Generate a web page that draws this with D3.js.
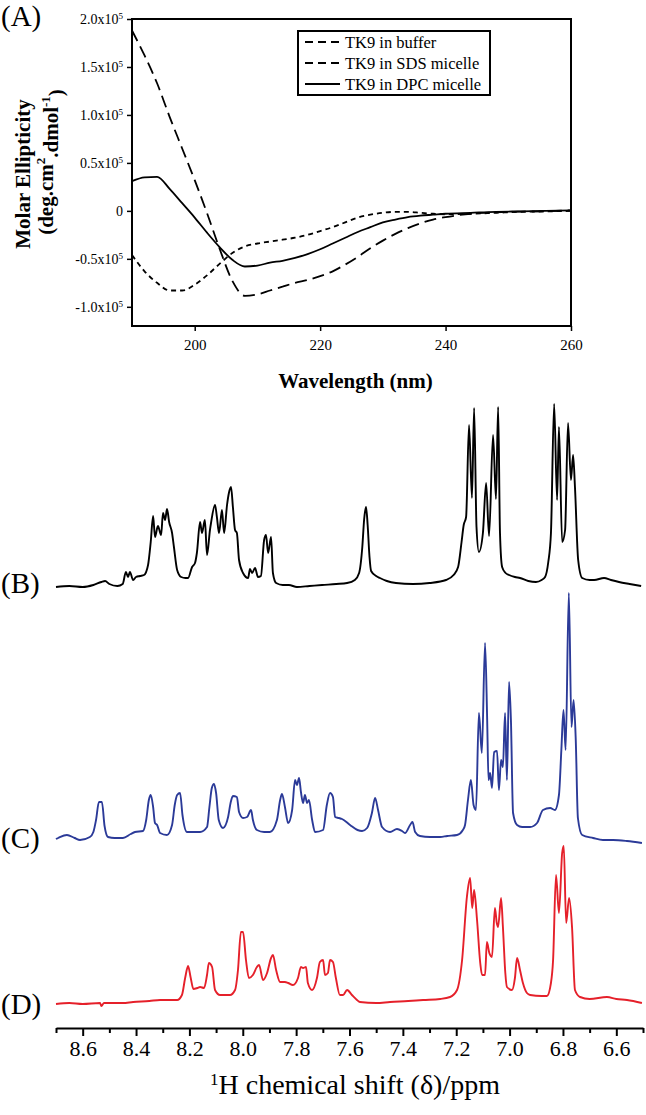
<!DOCTYPE html>
<html>
<head>
<meta charset="utf-8">
<script src="https://cdn.jsdelivr.net/npm/d3@7"></script>
<style>
  body { margin: 0; background: #fff; }
  svg { display: block; font-family: "Liberation Serif", "Times New Roman", serif; }
</style>
</head>
<body>
<svg id="chart" width="646" height="1115"></svg>
<script>
// ---------- panel A : CD spectra (values in units of 1e5) ----------
var wavelengths = [190,192,194,196,198,200,202,204,206,208,210,212,214,216,218,220,222,224,226,228,230,232,234,236,238,240,244,248,252,256,260];
var bufferVals  = [-0.46,-0.63,-0.75,-0.83,-0.83,-0.77,-0.67,-0.55,-0.44,-0.37,-0.34,-0.32,-0.30,-0.28,-0.25,-0.21,-0.17,-0.12,-0.07,-0.04,-0.02,-0.01,-0.01,-0.02,-0.03,-0.035,-0.03,-0.02,-0.01,-0.005,0];
var sdsVals     = [1.88,1.62,1.33,0.98,0.65,0.32,-0.03,-0.40,-0.73,-0.885,-0.87,-0.83,-0.79,-0.75,-0.72,-0.68,-0.63,-0.56,-0.48,-0.39,-0.31,-0.24,-0.18,-0.13,-0.09,-0.065,-0.03,-0.015,-0.008,-0.004,0.005];
var dpcVals     = [0.31,0.35,0.355,0.23,0.08,-0.07,-0.23,-0.38,-0.51,-0.58,-0.57,-0.54,-0.52,-0.49,-0.45,-0.40,-0.34,-0.28,-0.22,-0.17,-0.12,-0.09,-0.065,-0.05,-0.04,-0.03,-0.02,-0.01,-0.005,0,0.005];
var cdNames = ["TK9 in buffer", "TK9 in SDS micelle", "TK9 in DPC micelle"];
var cdYTicks = [-1.0, -0.5, 0, 0.5, 1.0, 1.5, 2.0];
var cdXTicks = [200, 220, 240, 260];

// ---------- panels B-D : 1H NMR spectra [ppm, intensity a.u.] ----------
var nmrTicks = [8.6, 8.4, 8.2, 8.0, 7.8, 7.6, 7.4, 7.2, 7.0, 6.8, 6.6];
var nmrMinorTicks = [8.7, 8.5, 8.3, 8.1, 7.9, 7.7, 7.5, 7.3, 7.1, 6.9, 6.7, 6.5];

var specB = [[8.700,0],[8.650,1],[8.600,0],[8.560,2],[8.530,5],[8.516,6],[8.500,3],[8.470,1],[8.450,3],[8.438,15],[8.430,10],[8.423,15],[8.411,7],[8.400,10],[8.385,11],[8.370,12],[8.355,22],[8.345,45],[8.336,71],[8.329,50],[8.318,61],[8.306,52],[8.299,74],[8.291,67],[8.284,78],[8.276,65],[8.265,54],[8.258,40],[8.246,17],[8.231,10],[8.215,9],[8.205,9],[8.190,20],[8.179,24],[8.172,34],[8.160,65],[8.153,54],[8.142,67],[8.134,32],[8.123,57],[8.119,64],[8.104,82],[8.097,70],[8.089,54],[8.078,77],[8.070,54],[8.059,82],[8.052,94],[8.044,100],[8.037,80],[8.029,57],[8.022,54],[8.014,27],[7.999,14],[7.980,9],[7.973,18],[7.965,14],[7.954,19],[7.943,10],[7.932,11],[7.920,47],[7.913,52],[7.905,34],[7.894,50],[7.887,14],[7.875,4],[7.850,2],[7.827,2],[7.797,0],[7.750,1],[7.703,2],[7.650,3],[7.609,4],[7.580,7],[7.564,14],[7.552,40],[7.545,68],[7.538,80],[7.532,62],[7.525,30],[7.519,16],[7.500,11],[7.486,9],[7.460,6],[7.426,4],[7.362,3],[7.300,4],[7.238,7],[7.210,12],[7.193,20],[7.180,45],[7.172,62],[7.163,70],[7.152,162],[7.141,89],[7.133,179],[7.124,60],[7.115,35],[7.100,54],[7.088,104],[7.077,51],[7.062,152],[7.051,88],[7.043,180],[7.036,54],[7.028,20],[7.015,14],[7.002,12],[6.980,10],[6.961,9],[6.930,6],[6.901,5],[6.880,7],[6.867,10],[6.855,25],[6.845,54],[6.833,183],[6.822,87],[6.815,160],[6.803,45],[6.792,57],[6.781,164],[6.770,107],[6.762,132],[6.755,100],[6.743,27],[6.728,9],[6.700,7],[6.683,7],[6.646,9],[6.620,7],[6.590,5],[6.550,3],[6.507,1]];

var specC = [[8.700,1],[8.692,2],[8.659,5],[8.630,2],[8.610,0],[8.573,3],[8.560,8],[8.550,20],[8.539,38],[8.528,38],[8.518,14],[8.505,3],[8.480,2],[8.449,2],[8.420,6],[8.404,8],[8.374,9],[8.362,20],[8.352,40],[8.345,45],[8.336,33],[8.329,17],[8.321,15],[8.310,7],[8.284,5],[8.265,15],[8.255,35],[8.246,45],[8.235,47],[8.226,25],[8.209,8],[8.180,8],[8.160,8],[8.134,13],[8.125,33],[8.116,52],[8.108,56],[8.100,47],[8.090,20],[8.074,12],[8.055,23],[8.045,38],[8.037,44],[8.022,43],[8.014,28],[7.999,22],[7.984,23],[7.969,30],[7.962,20],[7.947,10],[7.920,8],[7.898,8],[7.872,20],[7.860,40],[7.853,46],[7.842,33],[7.830,17],[7.815,30],[7.804,60],[7.797,55],[7.789,62],[7.782,48],[7.774,37],[7.767,45],[7.759,37],[7.752,40],[7.740,20],[7.729,8],[7.699,10],[7.685,35],[7.673,47],[7.662,43],[7.654,23],[7.640,22],[7.628,21],[7.598,15],[7.570,10],[7.553,9],[7.534,12],[7.516,27],[7.504,42],[7.493,30],[7.478,13],[7.448,8],[7.422,11],[7.403,9],[7.392,7],[7.373,15],[7.364,18],[7.354,8],[7.336,4],[7.298,3],[7.260,3],[7.234,4],[7.197,5],[7.175,10],[7.167,15],[7.156,40],[7.145,60],[7.135,35],[7.126,30],[7.115,127],[7.104,87],[7.092,197],[7.084,120],[7.079,60],[7.073,67],[7.066,52],[7.058,88],[7.047,89],[7.040,50],[7.032,80],[7.025,73],[7.017,127],[7.010,60],[7.002,158],[6.995,120],[6.987,27],[6.972,15],[6.953,13],[6.923,13],[6.897,17],[6.875,30],[6.848,32],[6.830,30],[6.815,45],[6.806,90],[6.798,130],[6.790,90],[6.778,247],[6.768,113],[6.760,140],[6.752,100],[6.744,22],[6.728,5],[6.687,2],[6.650,0],[6.612,0],[6.560,-1],[6.504,-3]];

var specD = [[8.700,-1],[8.650,0],[8.600,-1],[8.535,0],[8.530,-3],[8.520,0],[8.450,0],[8.411,1],[8.350,2],[8.310,3],[8.246,3],[8.228,8],[8.216,25],[8.205,37],[8.195,25],[8.185,14],[8.170,15],[8.160,16],[8.145,15],[8.134,28],[8.127,40],[8.115,36],[8.104,13],[8.085,8],[8.048,8],[8.029,13],[8.018,33],[8.007,71],[7.999,71],[7.988,43],[7.977,25],[7.962,28],[7.947,36],[7.939,38],[7.924,23],[7.909,30],[7.894,45],[7.887,48],[7.875,33],[7.860,21],[7.842,21],[7.830,20],[7.812,18],[7.793,25],[7.782,36],[7.774,35],[7.763,36],[7.756,20],[7.740,13],[7.722,25],[7.711,41],[7.699,43],[7.692,28],[7.681,30],[7.673,43],[7.662,41],[7.651,25],[7.636,8],[7.624,8],[7.609,13],[7.591,8],[7.572,3],[7.561,1],[7.500,0],[7.448,1],[7.380,2],[7.324,3],[7.260,4],[7.223,6],[7.197,13],[7.178,43],[7.160,106],[7.148,125],[7.140,95],[7.133,113],[7.122,83],[7.110,40],[7.103,28],[7.092,28],[7.085,61],[7.076,50],[7.066,46],[7.055,95],[7.048,80],[7.043,76],[7.032,105],[7.025,76],[7.016,30],[7.010,16],[6.991,13],[6.980,25],[6.972,45],[6.961,33],[6.950,20],[6.935,10],[6.923,8],[6.880,7],[6.860,7],[6.845,20],[6.837,43],[6.826,128],[6.815,90],[6.803,150],[6.797,157],[6.788,80],[6.777,105],[6.766,76],[6.755,13],[6.736,6],[6.700,4],[6.635,6],[6.600,4],[6.560,3],[6.504,0]];

var panelLabels = ["(A)", "(B)", "(C)", "(D)"];

var svg = d3.select("#chart");

// ================= panel A =================
var cdBox = { left: 132, right: 571, top: 19, bottom: 326 };
var x = d3.scaleLinear().domain([190, 260]).range([cdBox.left, cdBox.right]);
var y = d3.scaleLinear().domain([-1.2, 2.0]).range([cdBox.bottom, cdBox.top]);

var gA = svg.append("g");

var yAxis = gA.append("g")
  .attr("transform", "translate(" + cdBox.left + ",0)")
  .call(d3.axisLeft(y).tickValues(cdYTicks).tickSizeInner(5).tickSizeOuter(0).tickPadding(4));
yAxis.select(".domain").remove();
yAxis.selectAll("line").attr("stroke-width", 1.5);
yAxis.selectAll("text")
  .attr("font-size", 14)
  .attr("font-family", "Liberation Serif, Times New Roman, serif")
  .each(function(d) {
    var t = d3.select(this).text(null);
    if (d === 0) { t.text("0"); return; }
    t.append("tspan").text(d.toFixed(1) + "x10");
    t.append("tspan").attr("font-size", 9).attr("dy", "-0.55em").text("5");
  });

var xAxis = gA.append("g")
  .attr("transform", "translate(0," + cdBox.bottom + ")")
  .call(d3.axisBottom(x).tickValues(cdXTicks).tickSizeInner(5).tickSizeOuter(0).tickPadding(8));
xAxis.select(".domain").remove();
xAxis.selectAll("line").attr("stroke-width", 1.5);
xAxis.selectAll("text")
  .attr("font-size", 15)
  .attr("font-family", "Liberation Serif, Times New Roman, serif");

gA.append("rect")
  .attr("x", cdBox.left).attr("y", cdBox.top)
  .attr("width", cdBox.right - cdBox.left).attr("height", cdBox.bottom - cdBox.top)
  .attr("fill", "none").attr("stroke", "#000").attr("stroke-width", 2);

var cdLine = d3.line()
  .x(function(d) { return x(d[0]); })
  .y(function(d) { return y(d[1]); })
  .curve(d3.curveMonotoneX);

var cdData = [bufferVals, sdsVals, dpcVals];
var cdDash = ["5,4", "12,6", null];

cdData.forEach(function(vals, i) {
  gA.append("path")
    .datum(wavelengths.map(function(w, k) { return [w, vals[k]]; }))
    .attr("d", cdLine)
    .attr("fill", "none")
    .attr("stroke", "#000")
    .attr("stroke-width", 1.8)
    .attr("stroke-dasharray", cdDash[i]);
});

// legend
var lg = gA.append("g").attr("transform", "translate(298,31)");
lg.append("rect").attr("width", 192).attr("height", 64)
  .attr("fill", "#fff").attr("stroke", "#000").attr("stroke-width", 2);
cdNames.forEach(function(name, i) {
  var cy = 11 + i * 21;
  lg.append("line")
    .attr("x1", 7).attr("x2", 42).attr("y1", cy).attr("y2", cy)
    .attr("stroke", "#000").attr("stroke-width", 1.8)
    .attr("stroke-dasharray", i < 2 ? "8,5" : null);
  lg.append("text")
    .attr("x", 47).attr("y", cy + 5.5)
    .attr("font-size", 16.5)
    .text(name);
});

// axis titles
var yTitle = gA.append("g").attr("font-weight", "bold").attr("font-size", 21);
yTitle.append("text")
  .attr("transform", "translate(30,174) rotate(-90)")
  .attr("text-anchor", "middle")
  .text("Molar Ellipticity");
var yt2 = yTitle.append("text")
  .attr("transform", "translate(53,162) rotate(-90)")
  .attr("text-anchor", "middle");
yt2.append("tspan").text("(deg.cm");
yt2.append("tspan").attr("font-size", 13).attr("dy", "-0.6em").text("2");
yt2.append("tspan").attr("dy", "0.6em").text(".dmol");
yt2.append("tspan").attr("font-size", 13).attr("dy", "-0.6em").text("-1");
yt2.append("tspan").attr("dy", "0.6em").text(")");

gA.append("text")
  .attr("x", (cdBox.left + cdBox.right) / 2 + 4).attr("y", 388)
  .attr("text-anchor", "middle")
  .attr("font-weight", "bold").attr("font-size", 21)
  .text("Wavelength (nm)");

// ================= panels B - D =================
var nmrAxisY = 1028;
var xN = d3.scaleLinear().domain([8.7, 6.5]).range([56, 643]);

var spectra = [
  { data: specB, base: 587, color: "#000000" },
  { data: specC, base: 840, color: "#2b3a98" },
  { data: specD, base: 1003, color: "#e5202a" }
];

var nmrLine = d3.line().curve(d3.curveMonotoneX);

spectra.forEach(function(s) {
  var yS = d3.scaleLinear().domain([0, 100]).range([s.base, s.base - 100]);
  nmrLine.x(function(d) { return xN(d[0]); }).y(function(d) { return yS(d[1]); });
  svg.append("path")
    .datum(s.data)
    .attr("d", nmrLine)
    .attr("fill", "none")
    .attr("stroke", s.color)
    .attr("stroke-width", 1.9)
    .attr("stroke-linejoin", "round");
});

var nAxis = svg.append("g")
  .attr("transform", "translate(0," + nmrAxisY + ")")
  .call(d3.axisBottom(xN).tickValues(nmrTicks).tickFormat(d3.format(".1f"))
    .tickSizeInner(8).tickSizeOuter(0).tickPadding(4));
nAxis.select(".domain").attr("stroke-width", 2.2);
nAxis.selectAll("line").attr("stroke-width", 2);
nAxis.selectAll("text")
  .attr("font-size", 22)
  .attr("font-family", "Liberation Serif, Times New Roman, serif");

var nMinor = svg.append("g")
  .attr("transform", "translate(0," + nmrAxisY + ")")
  .call(d3.axisBottom(xN).tickValues(nmrMinorTicks).tickFormat("").tickSizeInner(5).tickSizeOuter(0));
nMinor.select(".domain").remove();
nMinor.selectAll("line").attr("stroke-width", 2);

var nt = svg.append("text")
  .attr("x", 355).attr("y", 1094)
  .attr("text-anchor", "middle")
  .attr("font-size", 28);
nt.append("tspan").attr("font-size", 17).attr("dy", "-0.55em").text("1");
nt.append("tspan").attr("dy", "0.35em").text("H chemical shift (\u03b4)/ppm");

// panel letters
var labelY = [26, 593, 848, 1014];
panelLabels.forEach(function(l, i) {
  svg.append("text")
    .attr("x", 1).attr("y", labelY[i])
    .attr("font-size", 29)
    .text(l);
});
</script>
</body>
</html>
